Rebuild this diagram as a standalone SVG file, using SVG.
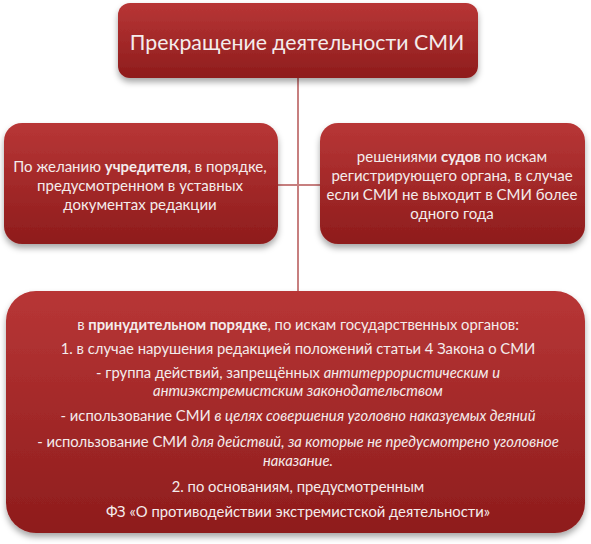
<svg xmlns="http://www.w3.org/2000/svg" width="591" height="544" viewBox="0 0 591 544">
<defs>
<linearGradient id="g" x1="0" y1="0" x2="0" y2="1">
<stop offset="0" stop-color="#b83636"/>
<stop offset="1" stop-color="#8e1c1c"/>
</linearGradient>
<filter id="sh" x="-10%" y="-10%" width="120%" height="130%">
<feDropShadow dx="0" dy="4" stdDeviation="3" flood-color="#000" flood-opacity="0.35"/>
</filter>
</defs>
<style>
.box{fill:url(#g);filter:url(#sh);}
.t{font-family:Lato,"Liberation Sans",sans-serif;fill:#f4ecec;text-anchor:middle;font-size:15px;}
.s{font-size:14.8px;}
.b{font-weight:bold;}
.i{font-style:italic;}
.c{stroke:#c77f7f;stroke-width:2;fill:none;}
</style>
<g id="connectors">
<line class="c" x1="298" y1="76" x2="298" y2="292"/>
<line class="c" x1="276" y1="185" x2="321" y2="185"/>
</g>
<g id="top">
<rect class="box" x="118" y="3" width="360" height="75" rx="12"/>
<text class="t" x="297" y="50" style="font-size:21.3px">Прекращение деятельности СМИ</text>
</g>
<g id="left">
<rect class="box" x="4" y="123" width="274" height="121" rx="18"/>
<text class="t" x="140" y="172">По желанию <tspan class="b">учредителя</tspan>, в порядке,</text>
<text class="t" x="140" y="191">предусмотренном в уставных</text>
<text class="t" x="140" y="210">документах редакции</text>
</g>
<g id="right">
<rect class="box" x="320" y="123" width="265" height="121" rx="18"/>
<text class="t" x="452" y="162">решениями <tspan class="b">судов</tspan> по искам</text>
<text class="t" x="452" y="181">регистрирующего органа, в случае</text>
<text class="t" x="452" y="200">если СМИ не выходит в СМИ более</text>
<text class="t" x="452" y="219">одного года</text>
</g>
<g id="bottom">
<rect class="box" x="6" y="291" width="579" height="242" rx="30"/>
<text class="t s" x="298" y="330">в <tspan class="b">принудительном порядке</tspan>, по искам государственных органов:</text>
<text class="t s" x="298" y="354">1. в случае нарушения редакцией положений статьи 4 Закона о СМИ</text>
<text class="t s" x="298" y="378">- группа действий, запрещённых <tspan class="i">антитеррористическим и</tspan></text>
<text class="t s i" x="298" y="396">антиэкстремистским законодательством</text>
<text class="t s" x="298" y="421">- использование СМИ <tspan class="i">в целях совершения уголовно наказуемых деяний</tspan></text>
<text class="t s" x="298" y="447">- использование СМИ <tspan class="i">для действий, за которые не предусмотрено уголовное</tspan></text>
<text class="t s i" x="298" y="466">наказание.</text>
<text class="t s" x="298" y="492">2. по основаниям, предусмотренным</text>
<text class="t s" x="298" y="517">ФЗ «О противодействии экстремистской деятельности»</text>
</g>
</svg>
